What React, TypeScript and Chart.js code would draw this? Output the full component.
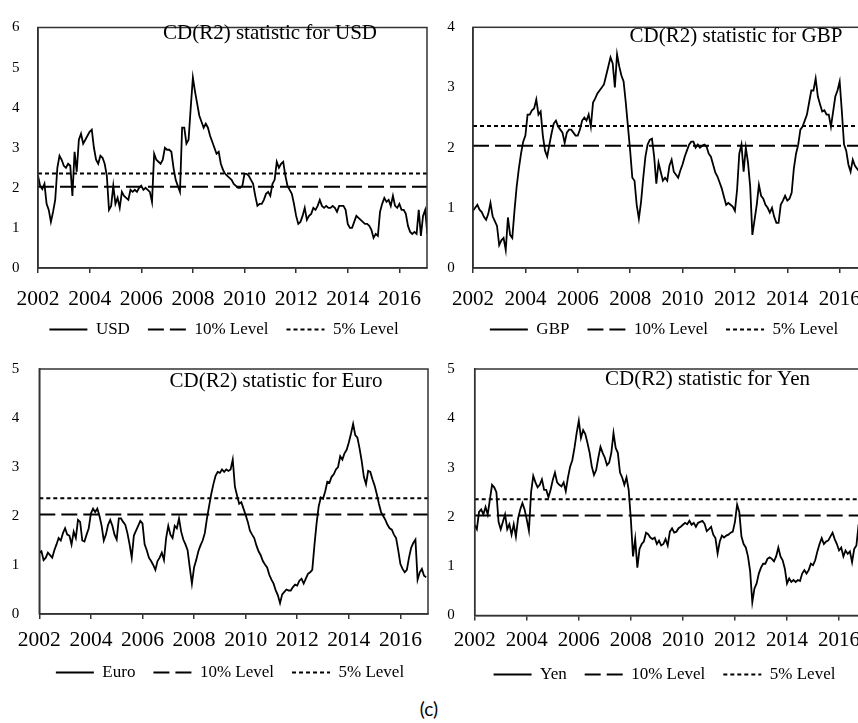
import React, { useEffect, useRef } from "react";
import { Chart, registerables } from "chart.js";

Chart.register(...registerables);

// ---------- data ----------
const START_YEAR = 2002;
const STEPS_PER_YEAR = 12; // monthly readings
const X_MAX = 2017.07;
const YEAR_TICKS = [2002, 2004, 2006, 2008, 2010, 2012, 2014, 2016];
const LEVEL_10 = 2.03;
const LEVEL_5 = 2.36;
const Y_TICKS_USD = [0, 1, 2, 3, 4, 5, 6];
const Y_TICKS_GBP = [0, 1, 2, 3, 4];
const Y_TICKS_EURO = [0, 1, 2, 3, 4, 5];
const Y_TICKS_YEN = [0, 1, 2, 3, 4, 5];

const USD_VALUES = [
  2.3, 2.05, 1.97, 2.1, 1.6, 1.45, 1.15, 1.4, 1.7, 2.5, 2.8, 2.7,
  2.55, 2.5, 2.6, 2.55, 1.8, 2.9, 2.4, 3.2, 3.35, 3.1, 3.2, 3.3,
  3.4, 3.45, 3.0, 2.7, 2.6, 2.8, 2.75, 2.6, 2.3, 1.45, 1.55, 2.05,
  1.6, 1.75, 1.5, 1.9, 1.8, 1.75, 1.7, 1.95, 1.9, 1.95, 1.9, 2.0,
  2.05, 1.95, 2.0, 1.95, 1.9, 1.65, 2.85, 2.7, 2.65, 2.6, 2.7, 3.0,
  2.95, 2.95, 2.9, 2.5, 2.2, 2.05, 1.9, 3.5, 3.5, 3.1, 3.2, 4.0,
  4.75, 4.4, 4.1, 3.8, 3.65, 3.5, 3.6, 3.5, 3.3, 3.15, 3.0, 2.85,
  2.9, 2.6, 2.45, 2.35, 2.3, 2.25, 2.2, 2.1, 2.05, 2.0, 2.0, 2.05,
  2.35, 2.35, 2.3, 2.2, 2.1, 1.8, 1.55, 1.6, 1.6, 1.7, 1.85, 1.9,
  1.8, 2.1, 2.2, 2.65, 2.5, 2.6, 2.65, 2.3, 2.05, 1.95, 1.85, 1.6,
  1.3, 1.1, 1.15, 1.3, 1.5, 1.2, 1.3, 1.35, 1.5, 1.45, 1.55, 1.7,
  1.55, 1.5, 1.55, 1.5, 1.5, 1.55, 1.5, 1.4, 1.55, 1.55, 1.55, 1.45,
  1.1, 1.0, 1.0, 1.15, 1.3, 1.25, 1.2, 1.15, 1.1, 1.1, 1.05, 0.95,
  0.75, 0.85, 0.8, 1.4, 1.6, 1.75, 1.65, 1.7, 1.55, 1.8, 1.55, 1.5,
  1.6, 1.45, 1.45, 1.35, 1.05, 0.9, 0.85, 0.9, 0.85, 1.45, 0.8, 1.3,
  1.45, 0.85,
];

const GBP_VALUES = [
  0.95, 1.0, 1.05, 0.97, 0.93, 0.85, 0.8, 0.9, 1.08, 0.86, 0.78, 0.7,
  0.38, 0.46, 0.5, 0.3, 0.84, 0.55, 0.5, 0.95, 1.35, 1.65, 1.9, 2.1,
  2.2, 2.55, 2.55, 2.62, 2.65, 2.8, 2.55, 2.6, 2.2, 1.95, 1.85, 2.05,
  2.24, 2.4, 2.45, 2.35, 2.3, 2.25, 2.08, 2.25, 2.3, 2.3, 2.25, 2.2,
  2.2, 2.3, 2.45, 2.5, 2.45, 2.55, 2.35, 2.75, 2.82, 2.9, 2.95, 3.0,
  3.05, 3.2, 3.35, 3.5, 3.4, 3.0, 3.55, 3.35, 3.2, 3.1, 2.75, 2.35,
  1.95, 1.5, 1.45, 1.05, 0.82, 1.1, 1.5, 1.85, 2.05, 2.13, 2.15, 1.85,
  1.4, 1.75, 1.6, 1.45, 1.5, 1.45, 1.7, 1.8, 1.6, 1.55, 1.5, 1.62,
  1.72, 1.85, 1.95, 2.05, 2.1, 2.1, 2.0, 2.05, 2.0, 2.03, 2.05, 2.02,
  1.9, 1.85, 1.72, 1.59, 1.52, 1.42, 1.32, 1.18, 1.05, 1.08, 1.05, 1.02,
  0.95, 1.3, 1.9, 2.05, 1.6, 2.0, 1.75, 1.35, 0.55, 0.8, 1.05, 1.38,
  1.2, 1.15, 1.05, 1.0, 0.92, 1.0, 0.85, 0.75, 0.75, 1.05, 1.12, 1.2,
  1.12, 1.15, 1.25, 1.65, 1.9, 2.05, 2.3, 2.35, 2.45, 2.55, 2.75, 2.95,
  2.95, 3.15, 2.85, 2.72, 2.6, 2.62, 2.55, 2.55, 2.35, 2.6, 2.85, 2.95,
  3.1, 2.6, 2.05, 1.95, 1.72, 1.6, 1.8, 1.7, 1.65, 1.6, 1.7, 1.65,
  1.7, 1.6,
];

const EURO_VALUES = [
  1.25, 1.28, 1.1, 1.15, 1.25, 1.2, 1.15, 1.3, 1.42, 1.55, 1.5, 1.65,
  1.75, 1.62, 1.6, 1.42, 1.68, 1.55, 1.92, 1.88, 1.5, 1.48, 1.62, 1.75,
  2.05, 2.15, 2.08, 2.15, 2.0, 1.8, 1.5, 1.62, 1.82, 1.92, 1.8, 1.62,
  1.52, 1.95, 1.95, 1.88, 1.82, 1.65, 1.42, 1.15, 1.6, 1.7, 1.8, 1.9,
  1.85, 1.42, 1.3, 1.15, 1.08, 1.0, 0.9, 1.08, 1.15, 1.25, 1.1, 1.55,
  1.8, 1.62, 1.55, 1.8, 1.75, 1.95, 1.68, 1.52, 1.42, 1.3, 0.95, 0.62,
  0.95, 1.1, 1.28, 1.4, 1.5, 1.65, 1.95, 2.2, 2.45, 2.65, 2.82, 2.9,
  2.88, 2.95, 2.9, 2.95, 2.92, 2.95, 3.15, 2.6, 2.42, 2.25, 2.28, 2.15,
  2.02, 1.88, 1.7, 1.62, 1.55, 1.4, 1.28, 1.2, 1.08, 1.01, 0.95, 0.8,
  0.7, 0.62, 0.48, 0.38, 0.22, 0.4, 0.45, 0.5, 0.48, 0.48, 0.55, 0.6,
  0.58, 0.68, 0.72, 0.62, 0.72, 0.82, 0.85, 0.9, 1.4, 1.85, 2.2, 2.38,
  2.35, 2.5, 2.7, 2.68, 2.8, 2.85, 2.95, 3.0, 3.22, 3.15, 3.28, 3.35,
  3.5, 3.68, 3.88, 3.65, 3.6, 3.38, 3.12, 2.8, 2.65, 2.92, 2.9, 2.75,
  2.62, 2.45, 2.25, 2.08, 2.0, 1.92, 1.82, 1.75, 1.72, 1.62, 1.55, 1.3,
  1.02, 0.92, 0.85, 0.9, 1.15, 1.35, 1.45, 1.52, 0.7, 0.85, 0.92, 0.78,
  0.75,
];

const YEN_VALUES = [
  1.84, 1.75, 2.1, 2.15, 2.05, 2.2, 2.05, 2.35, 2.65, 2.6, 2.5, 1.9,
  1.75, 1.9, 2.05, 1.75, 1.85, 1.64, 1.85, 1.6, 1.97, 2.15, 2.28, 2.15,
  1.95, 1.72, 2.5, 2.83, 2.7, 2.6, 2.65, 2.76, 2.55, 2.55, 2.4, 2.55,
  2.75, 2.9, 2.7, 2.65, 2.62, 2.7, 2.52, 2.8, 3.02, 3.15, 3.4, 3.7,
  3.95, 3.6, 3.76, 3.68, 3.5, 3.3, 3.02, 2.85, 2.95, 3.2, 3.42, 3.3,
  3.2, 3.05, 3.1, 3.3, 3.7, 3.4, 3.3, 2.9, 2.8, 2.65, 2.8, 2.55,
  1.95, 1.2, 1.55, 0.97, 1.35, 1.45, 1.5, 1.68, 1.65, 1.58, 1.55, 1.58,
  1.45, 1.52, 1.42, 1.45, 1.55, 1.42, 1.7, 1.77, 1.68, 1.7, 1.77, 1.8,
  1.84, 1.88, 1.85, 1.92, 1.84, 1.88, 1.8, 1.88, 1.9, 1.92, 1.86, 1.71,
  1.75, 1.8, 1.64, 1.57, 1.26, 1.5, 1.62, 1.58, 1.62, 1.64, 1.68, 1.7,
  1.9, 2.25, 2.1, 1.6, 1.45, 1.38, 1.2, 0.9, 0.27, 0.55, 0.65, 0.85,
  0.97, 1.05, 1.05, 1.15, 1.18, 1.15, 1.1, 1.2, 1.38, 1.2, 1.12, 0.95,
  0.65, 0.75, 0.68, 0.72, 0.68, 0.72, 0.7, 0.85, 0.92, 0.85, 0.92, 1.05,
  1.02, 1.12, 1.3, 1.45, 1.57, 1.45, 1.5, 1.52, 1.6, 1.68, 1.55, 1.45,
  1.32, 1.38, 1.2, 1.32, 1.25, 1.3, 1.08, 1.35, 1.42, 1.84, 1.9, 1.85,
  1.8,
];

// ---------- styling ----------
const SERIF = "'Liberation Serif', 'Times New Roman', serif";
const AXIS_COLOR = "#333333";
const LINE_COLOR = "#000000";

type PanelCfg = {
  left: number;
  top: number;
  width: number;
  height: number;
  padTop: number;
  yAxisW: number;
  rightW: number;
  xAxisH: number;
  xLabelOffset: number; // distance from axis line to label centre
  yPad: number;
  xFont: number;
  yTicks: number[];
  label: string;
  values: number[];
  title: string;
  titleX: number;
  titleY: number;
};

const PANELS: PanelCfg[] = [
  {
    left: 0, top: 0, width: 448, height: 348, padTop: 20,
    yAxisW: 38, rightW: 21, xAxisH: 35, xLabelOffset: 31, yPad: 18.5, xFont: 21.5,
    yTicks: Y_TICKS_USD, label: "USD", values: USD_VALUES,
    title: "CD(R2) statistic for USD", titleX: 270, titleY: 33,
  },
  {
    left: 430, top: 0, width: 468, height: 348, padTop: 22,
    yAxisW: 43, rightW: 30.3, xAxisH: 35, xLabelOffset: 31, yPad: 18.3, xFont: 21,
    yTicks: Y_TICKS_GBP, label: "GBP", values: GBP_VALUES,
    title: "CD(R2) statistic for GBP", titleX: 306, titleY: 36.7,
  },
  {
    left: 0, top: 340, width: 460, height: 351, padTop: 24.3,
    yAxisW: 39.3, rightW: 32, xAxisH: 32, xLabelOffset: 26, yPad: 20, xFont: 21.5,
    yTicks: Y_TICKS_EURO, label: "Euro", values: EURO_VALUES,
    title: "CD(R2) statistic for Euro", titleX: 276, titleY: 41.7,
  },
  {
    left: 430, top: 340, width: 469, height: 353, padTop: 24,
    yAxisW: 44.7, rightW: 32.1, xAxisH: 32.5, xLabelOffset: 25, yPad: 20, xFont: 21,
    yTicks: Y_TICKS_YEN, label: "Yen", values: YEN_VALUES,
    title: "CD(R2) statistic for Yen", titleX: 277.5, titleY: 39.3,
  },
];

const frameTitlePlugin = {
  id: "frameTitle",
  afterDraw(chart: any, _args: any, opts: any) {
    const { ctx, chartArea: a } = chart;
    ctx.save();
    ctx.strokeStyle = AXIS_COLOR;
    ctx.lineWidth = 1.5;
    ctx.setLineDash([]);
    ctx.strokeRect(a.left, a.top, a.right - a.left, a.bottom - a.top);
    ctx.fillStyle = "#000";
    ctx.font = `21px ${SERIF}`;
    ctx.textAlign = "center";
    ctx.textBaseline = "middle";
    ctx.fillText(opts.text, opts.x, opts.y);
    ctx.restore();
  },
};

function Panel({ cfg }: { cfg: PanelCfg }) {
  const ref = useRef<HTMLCanvasElement | null>(null);
  useEffect(() => {
    if (!ref.current) return;
    const series = cfg.values.map((v, i) => ({ x: START_YEAR + i / STEPS_PER_YEAR, y: v }));
    const lvl10 = [{ x: START_YEAR, y: LEVEL_10 }, { x: X_MAX, y: LEVEL_10 }];
    const lvl5 = [{ x: START_YEAR, y: LEVEL_5 }, { x: X_MAX, y: LEVEL_5 }];
    const xLineHeight = cfg.xFont * 1.2;
    const chart = new Chart(ref.current, {
      type: "line",
      data: {
        datasets: [
          { label: cfg.label, data: series, borderColor: LINE_COLOR, borderWidth: 1.8, pointRadius: 0, tension: 0 },
          { label: "10% Level", data: lvl10, borderColor: LINE_COLOR, borderWidth: 2, borderDash: [16, 6], pointRadius: 0 },
          { label: "5% Level", data: lvl5, borderColor: LINE_COLOR, borderWidth: 2, borderDash: [4, 3], pointRadius: 0 },
        ],
      },
      options: {
        animation: false,
        responsive: false,
        events: [],
        layout: { padding: { left: 0, right: 0, top: cfg.padTop, bottom: 0 } },
        scales: {
          x: {
            type: "linear",
            min: START_YEAR,
            max: X_MAX,
            afterBuildTicks: (s: any) => { s.ticks = YEAR_TICKS.map((v) => ({ value: v })); },
            afterFit: (s: any) => { s.height = cfg.xAxisH; },
            grid: { display: true, drawOnChartArea: false, drawTicks: true, tickLength: 5, color: AXIS_COLOR, lineWidth: 1.5 },
            border: { display: true, color: AXIS_COLOR, width: 1.5 },
            ticks: {
              autoSkip: false, maxRotation: 0, minRotation: 0,
              // mirrored labels are not clipped to the axis box; negative padding pushes them below the axis
              mirror: true,
              padding: -(cfg.xLabelOffset + xLineHeight / 2),
              color: "#000",
              font: { family: SERIF, size: cfg.xFont, lineHeight: 1.2 },
              callback: (v: any) => String(v),
            },
          },
          y: {
            type: "linear",
            position: "left",
            min: 0,
            max: cfg.yTicks[cfg.yTicks.length - 1],
            afterBuildTicks: (s: any) => { s.ticks = cfg.yTicks.map((v) => ({ value: v })); },
            afterFit: (s: any) => { s.width = cfg.yAxisW; },
            grid: { display: false, drawTicks: false },
            border: { display: true, color: AXIS_COLOR, width: 1.5 },
            ticks: {
              padding: cfg.yPad, color: "#000",
              font: { family: SERIF, size: 15 },
              callback: (v: any) => String(v),
            },
          },
          yRight: {
            type: "linear",
            axis: "y",
            position: "right",
            display: true,
            afterFit: (s: any) => { s.width = cfg.rightW; },
            grid: { display: false, drawTicks: false },
            border: { display: false },
            ticks: { display: false },
          },
        },
        plugins: {
          tooltip: { enabled: false },
          legend: {
            display: true,
            position: "bottom",
            labels: {
              usePointStyle: true,
              pointStyleWidth: 38,
              padding: 18,
              color: "#000",
              font: { family: SERIF, size: 17 },
              generateLabels: (ch: any) =>
                ch.data.datasets.map((ds: any, i: number) => ({
                  text: ds.label,
                  strokeStyle: ds.borderColor,
                  fillStyle: ds.borderColor,
                  lineWidth: ds.borderWidth,
                  lineDash: ds.borderDash || [],
                  pointStyle: "line",
                  hidden: false,
                  datasetIndex: i,
                  fontColor: "#000",
                })),
            },
          },
          frameTitle: { text: cfg.title, x: cfg.titleX, y: cfg.titleY },
        } as any,
      },
      plugins: [frameTitlePlugin],
    } as any);
    return () => chart.destroy();
  }, [cfg]);
  return (
    <canvas
      ref={ref}
      width={cfg.width}
      height={cfg.height}
      style={{ position: "absolute", left: cfg.left, top: cfg.top, width: cfg.width, height: cfg.height }}
    />
  );
}

export default function App() {
  return (
    <div style={{ position: "absolute", left: 0, top: 0, width: 858, height: 723, overflow: "hidden", background: "#fff" }}>
      {PANELS.map((p) => (
        <Panel key={p.label} cfg={p} />
      ))}
      <div
        style={{
          position: "absolute", left: 0, top: 697, width: 858, textAlign: "center",
          fontFamily: "Lato, 'Open Sans', sans-serif", fontSize: 19, lineHeight: "24px", color: "#000",
        }}
      >
        (c)
      </div>
    </div>
  );
}
